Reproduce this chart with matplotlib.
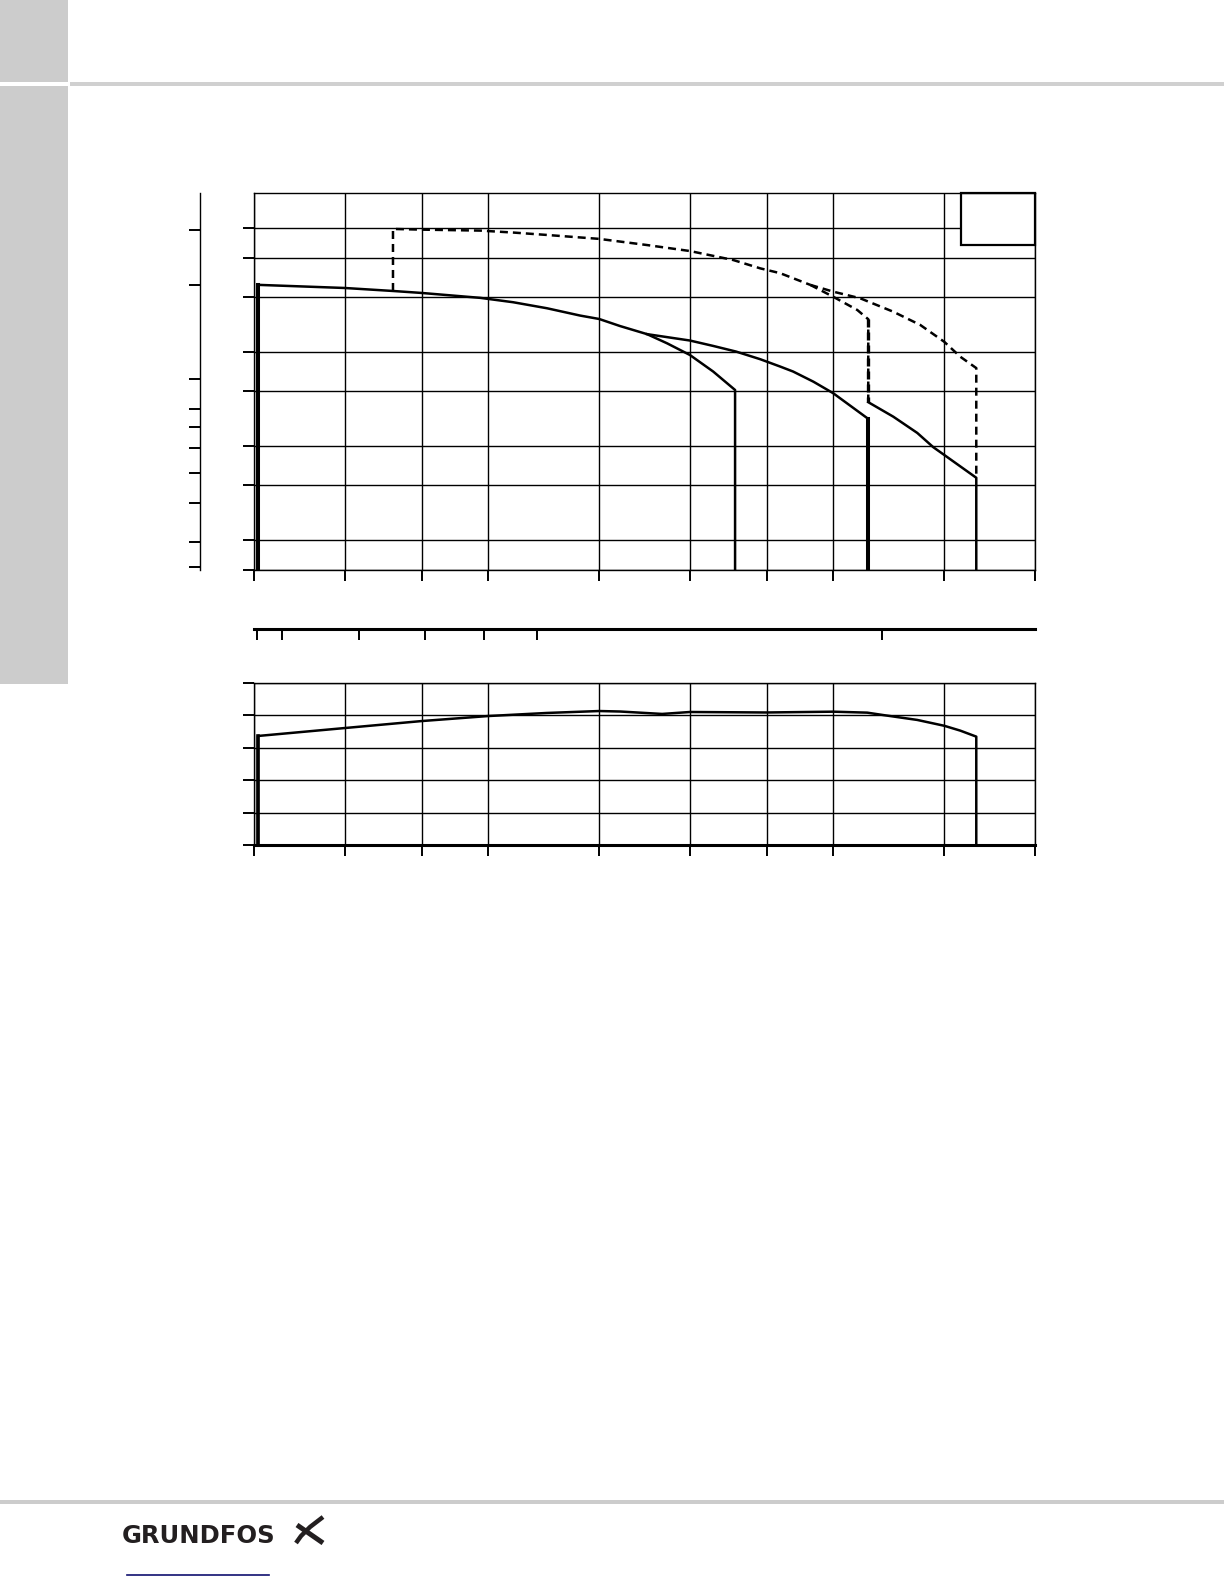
import matplotlib
matplotlib.use("Agg")
import matplotlib.pyplot as plt
from matplotlib.patches import Rectangle
from matplotlib.ticker import NullLocator, NullFormatter, FixedLocator

W, H = 1224, 1584

# flow axis (log) and the unit scales
q_ticks = [10, 12, 14, 16, 20, 24, 28, 32, 40, 48]
h_ticks = [8, 10, 15, 20, 30, 40, 60, 80, 100]
ft_ticks = [25, 30, 40, 50, 60, 70, 80, 100, 200, 300]
ls_ticks = [5.7, 6, 7, 8, 9, 10, 20]
eta_ticks = [0, 20, 40, 60, 80, 100]
ft_factor = 3.05
ls_factor = 0.567

# head curves (solid)
curve_a_q = [10.08, 10.08, 12.0, 13.22, 14.0, 15.75, 16.83, 18.01, 19.25, 20.0, 20.86,
             22.02, 22.93, 24.0, 25.15, 26.28, 26.28]
curve_a_h = [8, 65.6, 64.1, 62.7, 61.8, 59.6, 57.7, 55.2, 52.3, 51.0, 48.4,
             45.6, 42.6, 39.1, 34.6, 30.2, 8]
curve_b_q = [22.02, 24.0, 25.15, 26.33, 27.64, 28.77, 29.53, 30.76, 32.0, 34.34, 34.34]
curve_b_h = [45.6, 43.5, 41.8, 40.1, 37.9, 35.9, 34.6, 32.1, 29.5, 24.4, 8]
curve_c_q = [34.34, 36.11, 37.89, 39.13, 40.0, 42.66, 42.66]
curve_c_h = [27.6, 24.8, 22.0, 19.8, 18.7, 15.8, 8]

# max curves (dashed)
max_q = [13.22, 13.22, 14.0, 15.75, 16.83, 18.01, 20.0, 22.02, 24.0, 26.18, 27.64, 28.77, 30.56]
max_h = [62.7, 99.1, 98.6, 97.9, 96.5, 94.8, 92.1, 88.0, 84.2, 78.8, 74.1, 71.5, 65.6]
max1_q = [30.56, 32.0, 33.59, 34.34, 34.34]
max1_h = [65.6, 60.1, 54.5, 50.9, 27.7]
max2_q = [30.56, 32.0, 33.79, 36.11, 38.12, 40.0, 41.31, 42.66, 42.66]
max2_h = [65.6, 62.4, 59.4, 53.8, 48.8, 43.1, 38.6, 35.5, 15.7]

# efficiency
eta_q = [10.08, 10.08, 12.0, 14.0, 16.0, 18.0, 20.0, 20.86, 22.7, 24.0, 28.0, 32.0,
         34.27, 35.4, 37.89, 40.0, 41.31, 42.66, 42.66]
eta = [0, 67.3, 72.2, 76.5, 79.6, 81.5, 82.7, 82.4, 80.9, 82.1, 81.8, 82.3,
       81.7, 80.2, 77.2, 73.6, 70.6, 66.9, 0]


def box(x0, y0, x1, y1):
    return [x0 / W, 1 - y1 / H, (x1 - x0) / W, (y1 - y0) / H]


fig = plt.figure(figsize=(W / 100, H / 100), dpi=100)

# page furniture in pixel coordinates
bg = fig.add_axes([0, 0, 1, 1], zorder=-5)
bg.set_xlim(0, W)
bg.set_ylim(H, 0)
bg.axis("off")
grey = "#cccccc"
bg.add_patch(Rectangle((0, 0), 68, 82, color=grey, lw=0))
bg.add_patch(Rectangle((0, 86), 68, 598, color=grey, lw=0))
bg.add_patch(Rectangle((70, 82), W - 70, 4, color="#d0d0d0", lw=0))
bg.add_patch(Rectangle((0, 1500), W, 4, color=grey, lw=0))
bg.plot([127, 269], [1575, 1575], color="#101070", lw=1.2)
bg.text(122, 1543, "GRUNDFOS", fontsize=17.5, fontweight="bold", color="#231f20",
        family="DejaVu Sans", va="baseline", ha="left")
bg.plot([297, 323], [1525, 1543], color="#231f20", lw=3.6, solid_capstyle="butt")
bg.plot([323, 310, 301, 296], [1517, 1527, 1536, 1543], color="#231f20", lw=3.2,
        solid_capstyle="butt")

lw_grid = 1.0
dash = (3.2, 2.0)

# upper chart: head
ax = fig.add_axes(box(254, 193, 1035, 570))
ax.set_xscale("log")
ax.set_yscale("log")
ax.set_xlim(10, 48)
ax.set_ylim(8, 129.2)
ax.xaxis.set_major_locator(FixedLocator(q_ticks))
ax.yaxis.set_major_locator(FixedLocator(h_ticks))
for a in (ax.xaxis, ax.yaxis):
    a.set_minor_locator(NullLocator())
    a.set_major_formatter(NullFormatter())
    a.set_minor_formatter(NullFormatter())
ax.grid(True, which="major", color="black", lw=lw_grid)
ax.set_axisbelow(True)
ax.tick_params(direction="out", length=8, width=1.4)
for s in ax.spines.values():
    s.set_linewidth(lw_grid)
ax.add_patch(Rectangle((41.4, 88.0), 48 - 41.4, 129.2 - 88.0, fc="white", ec="black",
                       lw=1.6, zorder=2.5, clip_on=False))

ax.plot(curve_a_q, curve_a_h, color="black", lw=1.8, zorder=4)
ax.plot(curve_a_q[:2], curve_a_h[:2], color="black", lw=2.9, zorder=4)
ax.plot(curve_b_q, curve_b_h, color="black", lw=1.8, zorder=4)
ax.plot(curve_b_q[-2:], curve_b_h[-2:], color="black", lw=2.9, zorder=4)
ax.plot(curve_c_q, curve_c_h, color="black", lw=1.8, zorder=4)
ax.plot(max_q, max_h, color="black", lw=1.8, dashes=dash, zorder=4)
ax.plot(max1_q, max1_h, color="black", lw=1.8, dashes=dash, zorder=4)
ax.plot(max1_q[-2:], max1_h[-2:], color="black", lw=2.4, dashes=(2.4, 1.5), zorder=4)
ax.plot(max2_q, max2_h, color="black", lw=1.8, dashes=dash, zorder=4)

# second head scale on the left
ax_ft = fig.add_axes(box(200, 193, 201, 570))
ax_ft.set_yscale("log")
ax_ft.set_ylim(8 * ft_factor, 129.2 * ft_factor)
ax_ft.yaxis.set_major_locator(FixedLocator(ft_ticks))
ax_ft.yaxis.set_minor_locator(NullLocator())
ax_ft.yaxis.set_major_formatter(NullFormatter())
ax_ft.yaxis.set_minor_formatter(NullFormatter())
ax_ft.set_xticks([])
ax_ft.patch.set_alpha(0)
for k in ("top", "right", "bottom"):
    ax_ft.spines[k].set_visible(False)
ax_ft.spines["left"].set_linewidth(lw_grid)
ax_ft.tick_params(axis="y", direction="out", length=8, width=1.4)

# second flow scale bar
ax_ls = fig.add_axes(box(254, 627, 1035, 629))
ax_ls.set_xscale("log")
ax_ls.set_xlim(10 * ls_factor, 48 * ls_factor)
ax_ls.xaxis.set_major_locator(FixedLocator(ls_ticks))
ax_ls.xaxis.set_minor_locator(NullLocator())
ax_ls.xaxis.set_major_formatter(NullFormatter())
ax_ls.xaxis.set_minor_formatter(NullFormatter())
ax_ls.set_yticks([])
ax_ls.patch.set_alpha(0)
for k in ("top", "right", "left"):
    ax_ls.spines[k].set_visible(False)
ax_ls.spines["bottom"].set_linewidth(2.2)
ax_ls.tick_params(axis="x", direction="out", length=8, width=1.4)

# lower chart: efficiency
ax2 = fig.add_axes(box(254, 683, 1035, 845))
ax2.set_xscale("log")
ax2.set_xlim(10, 48)
ax2.set_ylim(0, 100)
ax2.xaxis.set_major_locator(FixedLocator(q_ticks))
ax2.yaxis.set_major_locator(FixedLocator(eta_ticks))
ax2.xaxis.set_minor_locator(NullLocator())
ax2.xaxis.set_major_formatter(NullFormatter())
ax2.xaxis.set_minor_formatter(NullFormatter())
ax2.yaxis.set_major_formatter(NullFormatter())
ax2.grid(True, which="major", color="black", lw=lw_grid)
ax2.set_axisbelow(True)
ax2.tick_params(direction="out", length=8, width=1.4)
for s in ax2.spines.values():
    s.set_linewidth(lw_grid)
ax2.spines["bottom"].set_linewidth(2.2)
ax2.plot(eta_q, eta, color="black", lw=1.8, zorder=4)
ax2.plot(eta_q[:2], eta[:2], color="black", lw=2.6, zorder=4)

fig.savefig("out.png", dpi=100)
